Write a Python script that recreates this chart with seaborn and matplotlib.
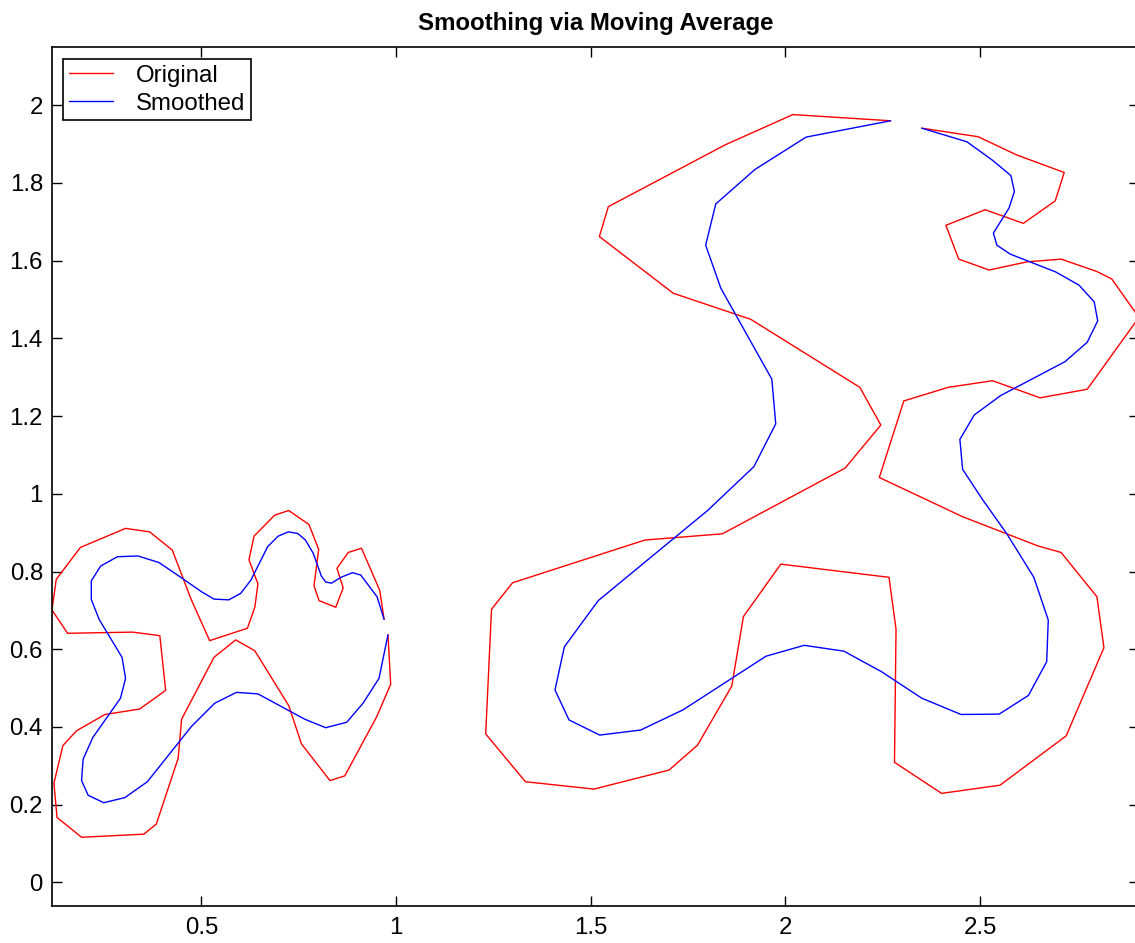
import numpy as np
import pandas as pd
import matplotlib
matplotlib.use("Agg")
import matplotlib.pyplot as plt
import seaborn as sns

# ---- data ----
left_orig_x = [0.969, 0.958, 0.911, 0.877, 0.848, 0.864, 0.845, 0.802, 0.789, 0.801, 0.776, 0.724, 0.688,
               0.635, 0.622, 0.645, 0.637, 0.618, 0.521, 0.474, 0.425, 0.367, 0.305, 0.189, 0.127, 0.116,
               0.156, 0.323, 0.393, 0.408, 0.341, 0.252, 0.179, 0.144, 0.121, 0.129, 0.192, 0.352, 0.384,
               0.440, 0.449, 0.532, 0.588, 0.637, 0.724, 0.757, 0.830, 0.868, 0.950, 0.986, 0.979]
left_orig_y = [0.677, 0.751, 0.860, 0.849, 0.808, 0.758, 0.708, 0.725, 0.763, 0.857, 0.921, 0.957, 0.945,
               0.891, 0.830, 0.768, 0.708, 0.654, 0.622, 0.727, 0.855, 0.902, 0.911, 0.862, 0.780, 0.701,
               0.641, 0.644, 0.635, 0.494, 0.446, 0.432, 0.390, 0.352, 0.255, 0.167, 0.116, 0.124, 0.150,
               0.319, 0.420, 0.579, 0.624, 0.596, 0.455, 0.356, 0.262, 0.274, 0.426, 0.510, 0.637]

left_smooth_x = [0.969, 0.951, 0.909, 0.888, 0.858, 0.834, 0.819, 0.808, 0.787, 0.767, 0.747, 0.723, 0.697,
                 0.670, 0.627, 0.601, 0.570, 0.532, 0.500, 0.444, 0.391, 0.337, 0.284, 0.241, 0.217, 0.217,
                 0.237, 0.296, 0.305, 0.292, 0.221, 0.196, 0.192, 0.209, 0.249, 0.303, 0.361, 0.474, 0.534,
                 0.590, 0.645, 0.765, 0.819, 0.873, 0.915, 0.956, 0.979]
left_smooth_y = [0.677, 0.735, 0.791, 0.797, 0.785, 0.770, 0.773, 0.788, 0.847, 0.881, 0.898, 0.902, 0.891,
                 0.864, 0.778, 0.744, 0.727, 0.729, 0.748, 0.787, 0.823, 0.840, 0.838, 0.814, 0.776, 0.728,
                 0.677, 0.579, 0.525, 0.474, 0.373, 0.317, 0.262, 0.224, 0.205, 0.218, 0.259, 0.401, 0.461,
                 0.489, 0.485, 0.420, 0.398, 0.412, 0.461, 0.525, 0.637]

right_orig_x = [2.270, 2.019, 1.845, 1.545, 1.522, 1.712, 1.911, 2.191, 2.245, 2.153, 1.838, 1.639, 1.299,
                1.245, 1.230, 1.332, 1.508, 1.701, 1.774, 1.862, 1.892, 1.988, 2.266, 2.284, 2.280, 2.401,
                2.551, 2.721, 2.818, 2.800, 2.708, 2.648, 2.455, 2.241, 2.304, 2.418, 2.532, 2.654, 2.775,
                2.908, 2.838, 2.800, 2.708, 2.621, 2.523, 2.445, 2.412, 2.513, 2.611, 2.693, 2.716, 2.594,
                2.495, 2.350]
right_orig_y = [1.960, 1.976, 1.898, 1.739, 1.662, 1.516, 1.449, 1.274, 1.177, 1.066, 0.897, 0.881, 0.771,
                0.703, 0.382, 0.259, 0.240, 0.289, 0.353, 0.505, 0.684, 0.819, 0.785, 0.651, 0.309, 0.229,
                0.250, 0.377, 0.604, 0.735, 0.849, 0.866, 0.941, 1.042, 1.239, 1.274, 1.291, 1.247, 1.269,
                1.454, 1.553, 1.572, 1.604, 1.597, 1.576, 1.604, 1.691, 1.731, 1.696, 1.754, 1.827, 1.872,
                1.919, 1.941]

right_smooth_x = [2.270, 2.053, 1.922, 1.821, 1.795, 1.834, 1.965, 1.975, 1.919, 1.800, 1.519, 1.432, 1.408,
                  1.444, 1.523, 1.628, 1.737, 1.950, 2.048, 2.150, 2.247, 2.350, 2.451, 2.549, 2.624, 2.671,
                  2.675, 2.638, 2.568, 2.507, 2.455, 2.448, 2.485, 2.553, 2.718, 2.775, 2.802, 2.793, 2.754,
                  2.694, 2.577, 2.543, 2.534, 2.574, 2.588, 2.579, 2.531, 2.466, 2.350]
right_smooth_y = [1.960, 1.918, 1.835, 1.746, 1.640, 1.529, 1.295, 1.180, 1.070, 0.957, 0.725, 0.606, 0.495,
                  0.418, 0.379, 0.392, 0.444, 0.582, 0.610, 0.595, 0.542, 0.474, 0.432, 0.433, 0.481, 0.568,
                  0.675, 0.785, 0.898, 0.984, 1.063, 1.140, 1.203, 1.253, 1.340, 1.390, 1.445, 1.494, 1.537,
                  1.571, 1.617, 1.640, 1.671, 1.735, 1.778, 1.819, 1.859, 1.906, 1.941]

x_ticks = [0.5, 1, 1.5, 2, 2.5]
x_tick_labels = ["0.5", "1", "1.5", "2", "2.5"]
y_ticks = [0, 0.2, 0.4, 0.6, 0.8, 1, 1.2, 1.4, 1.6, 1.8, 2]
y_tick_labels = ["0", "0.2", "0.4", "0.6", "0.8", "1", "1.2", "1.4", "1.6", "1.8", "2"]
title_text = "Smoothing via Moving Average"
series_names = ["Original", "Smoothed"]

# ---- style ----
sns.set_style("white")
plt.rcParams["font.family"] = ["Liberation Sans", "DejaVu Sans"]
plt.rcParams["font.size"] = 17.3
plt.rcParams["text.color"] = "black"
plt.rcParams["axes.labelcolor"] = "black"
plt.rcParams["xtick.color"] = "black"
plt.rcParams["ytick.color"] = "black"

fig = plt.figure(figsize=(11.35, 9.43), dpi=100)
ax = fig.add_axes([0.0458, 0.0396, 0.9577, 0.9106])

curves = [
    (left_orig_x, left_orig_y, "#ff0000", series_names[0]),
    (right_orig_x, right_orig_y, "#ff0000", None),
    (left_smooth_x, left_smooth_y, "#0000ff", series_names[1]),
    (right_smooth_x, right_smooth_y, "#0000ff", None),
]
for xs, ys, col, lab in curves:
    df = pd.DataFrame({"x": xs, "y": ys})
    sns.lineplot(data=df, x="x", y="y", sort=False, estimator=None, color=col,
                 linewidth=1.0, label=lab, ax=ax, legend=bool(lab))

ax.set_xlim(min(left_orig_x), max(right_orig_x))
ax.set_ylim(-0.06, 2.15)
ax.set_xticks(x_ticks)
ax.set_xticklabels(x_tick_labels)
ax.set_yticks(y_ticks)
ax.set_yticklabels(y_tick_labels)
ax.set_xlabel("")
ax.set_ylabel("")

ax.tick_params(axis="both", which="major", direction="in", length=7.5, width=1.0,
               colors="black", labelcolor="black", labelsize=17.3,
               top=True, right=True, bottom=True, left=True)
ax.tick_params(axis="y", pad=6.5)
ax.tick_params(axis="x", pad=8)
for s in ax.spines.values():
    s.set_visible(True)
    s.set_color("black")
    s.set_linewidth(1.2)

ax.set_title(title_text, fontweight="bold", fontsize=17.3, pad=12, color="black")

leg = ax.legend(loc="upper left", bbox_to_anchor=(0.0101, 0.986), borderaxespad=0,
                frameon=True, fancybox=False, shadow=False, fontsize=17.3,
                handlelength=1.85, handletextpad=0.95, labelspacing=0.24,
                borderpad=0.24, edgecolor="black")
leg.get_frame().set_linewidth(1.2)
leg.get_frame().set_alpha(1)
for t in leg.get_texts():
    t.set_color("black")

fig.savefig("out.png", dpi=100)
